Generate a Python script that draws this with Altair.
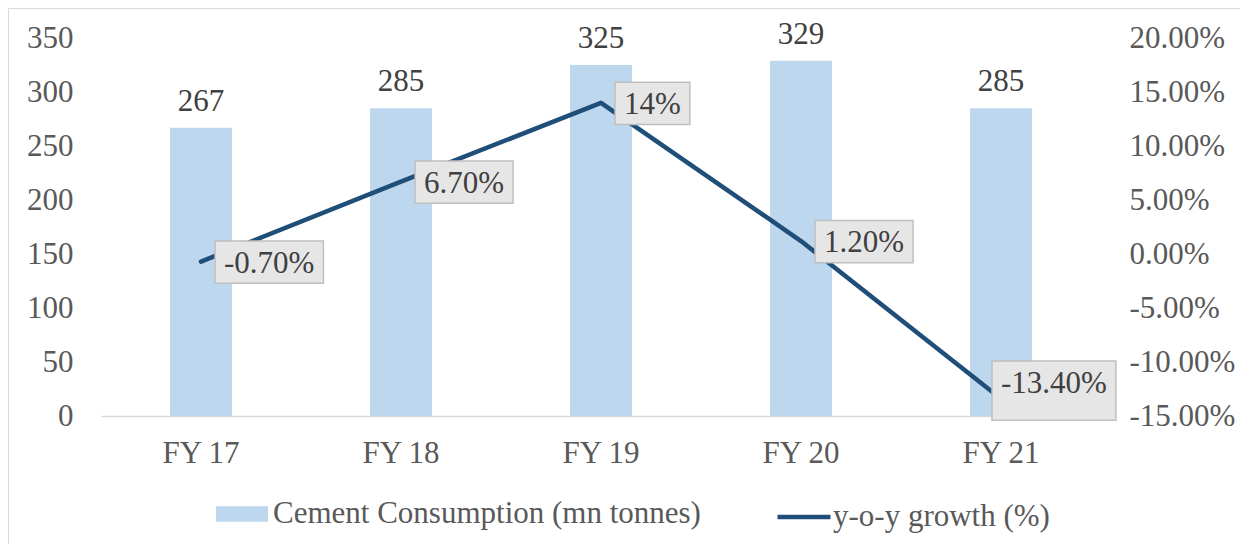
import altair as alt
import pandas as pd

years = ["FY 17", "FY 18", "FY 19", "FY 20", "FY 21"]
consumption = [267, 285, 325, 329, 285]
growth_pct = [-0.7, 6.7, 14.0, 1.2, -13.4]
growth_labels = ["-0.70%", "6.70%", "14%", "1.20%", "-13.40%"]
left_ticks = [0, 50, 100, 150, 200, 250, 300, 350]
right_ticks = [-15, -10, -5, 0, 5, 10, 15, 20]
bar_name = "Cement Consumption (mn tonnes)"
line_name = "y-o-y growth (%)"

FONT = "Liberation Serif"
FS = 31
AXIS_GRAY = "#595959"
TEXT_GRAY = "#404040"
BAR_COLOR = "#BDD7EE"
LINE_COLOR = "#1F4E79"

df = pd.DataFrame({
    "year": years,
    "consumption": consumption,
    "growth": [g / 100 for g in growth_pct],
    "label": growth_labels,
    "bar_series": [bar_name] * len(years),
    "line_series": [line_name] * len(years),
})

x_enc = alt.X(
    "year:N", sort=years,
    scale=alt.Scale(paddingInner=0, paddingOuter=0),
    axis=alt.Axis(title=None, labelAngle=0, ticks=False, domainColor="#D9D9D9",
                  domainWidth=1.5, labelFontSize=FS, labelFont=FONT,
                  labelColor=AXIS_GRAY, labelPadding=22, grid=False),
)

y_left = alt.Y(
    "consumption:Q",
    scale=alt.Scale(domain=[0, 350], nice=False, zero=True),
    axis=alt.Axis(title=None, values=left_ticks, grid=False, domain=False, ticks=False,
                  labelFontSize=FS, labelFont=FONT, labelColor=AXIS_GRAY,
                  labelPadding=28, orient="left"),
)

base = alt.Chart(df)

bars = base.mark_bar(size=62).encode(
    x=x_enc,
    y=y_left,
    color=alt.Color(
        "bar_series:N",
        scale=alt.Scale(range=[BAR_COLOR]),
        legend=alt.Legend(
            title=None, orient="none", legendX=115, legendY=450, padding=0,
            symbolType="M-1,-0.3L1,-0.3L1,0.3L-1,0.3Z", symbolSize=2704,
            symbolStrokeWidth=0, labelFontSize=FS, labelFont=FONT,
            labelColor=AXIS_GRAY, labelOffset=5, labelLimit=600,
        ),
    ),
)

bar_text = base.mark_text(
    baseline="alphabetic", dy=-17, fontSize=FS, font=FONT, color=TEXT_GRAY
).encode(x=x_enc, y=alt.Y("consumption:Q"), text=alt.Text("consumption:Q"))

left_layer = alt.layer(bars, bar_text)

y_right_scale = alt.Scale(domain=[-0.15, 0.20], nice=False, zero=False)
y_right = alt.Y(
    "growth:Q", scale=y_right_scale,
    axis=alt.Axis(title=None, values=[v / 100 for v in right_ticks],
                  labelExpr="replace(format(datum.value, '.2%'), '\u2212', '-')",
                  grid=False, domain=False, ticks=False, orient="right",
                  labelFontSize=FS, labelFont=FONT, labelColor=AXIS_GRAY,
                  labelPadding=28),
)

line = base.mark_line(strokeWidth=4.5, strokeCap="round", strokeJoin="round").encode(
    x=x_enc,
    y=y_right,
    stroke=alt.Stroke(
        "line_series:N",
        scale=alt.Scale(range=[LINE_COLOR]),
        legend=alt.Legend(
            title=None, orient="none", legendX=674, legendY=450, padding=0,
            symbolType="stroke", symbolSize=2809, symbolStrokeWidth=4.5,
            labelFontSize=FS, labelFont=FONT, labelColor=AXIS_GRAY,
            labelOffset=0, labelLimit=600,
        ),
    ),
)

# approximate text widths (em units, serif) for label box sizing
char_em = {"-": 0.333, ".": 0.25, "%": 0.833}


def box_width(s):
    return sum(char_em.get(c, 0.5) for c in s) * FS + 18


label_layers = []
for yr, lab in zip(years, growth_labels):
    w = box_width(lab)
    if yr == years[-1]:
        left_edge, yoff = -9, -16
    else:
        left_edge, yoff = 14, 1
    cx = left_edge + w / 2
    sub = base.transform_filter(alt.datum.year == yr).transform_calculate(
        ytop="datum.growth + 0.02", ybot="datum.growth - 0.02"
    )
    box = sub.mark_bar(
        size=w, xOffset=cx, yOffset=yoff, fill="#E7E6E6", stroke="#BFBFBF",
        strokeWidth=1.5
    ).encode(x=x_enc, y=alt.Y("ytop:Q", scale=y_right_scale), y2="ybot:Q")
    txt = sub.mark_text(
        align="center", baseline="middle", dx=cx, dy=yoff + 1, fontSize=FS,
        font=FONT, color=TEXT_GRAY
    ).encode(x=x_enc, y=alt.Y("growth:Q", scale=y_right_scale), text="label:N")
    label_layers += [box, txt]

right_layer = alt.layer(line, *label_layers)

frame = alt.Chart(pd.DataFrame({"k": [0]})).mark_rect(
    fill=None, stroke="#D9D9D9", strokeWidth=1
).encode(x=alt.value(-92.5), x2=alt.value(1300), y=alt.value(-29.5), y2=alt.value(700))

chart = alt.layer(frame, left_layer, right_layer).resolve_scale(
    y="independent", color="independent", stroke="independent"
).properties(
    width=1000, height=378,
    background="white",
    autosize=alt.AutoSizeParams(type="none"),
    padding={"left": 93, "top": 30, "right": 139, "bottom": 128},
).configure_view(stroke=None)

chart.save("out.html", embed_options={"renderer": "svg", "actions": False})
